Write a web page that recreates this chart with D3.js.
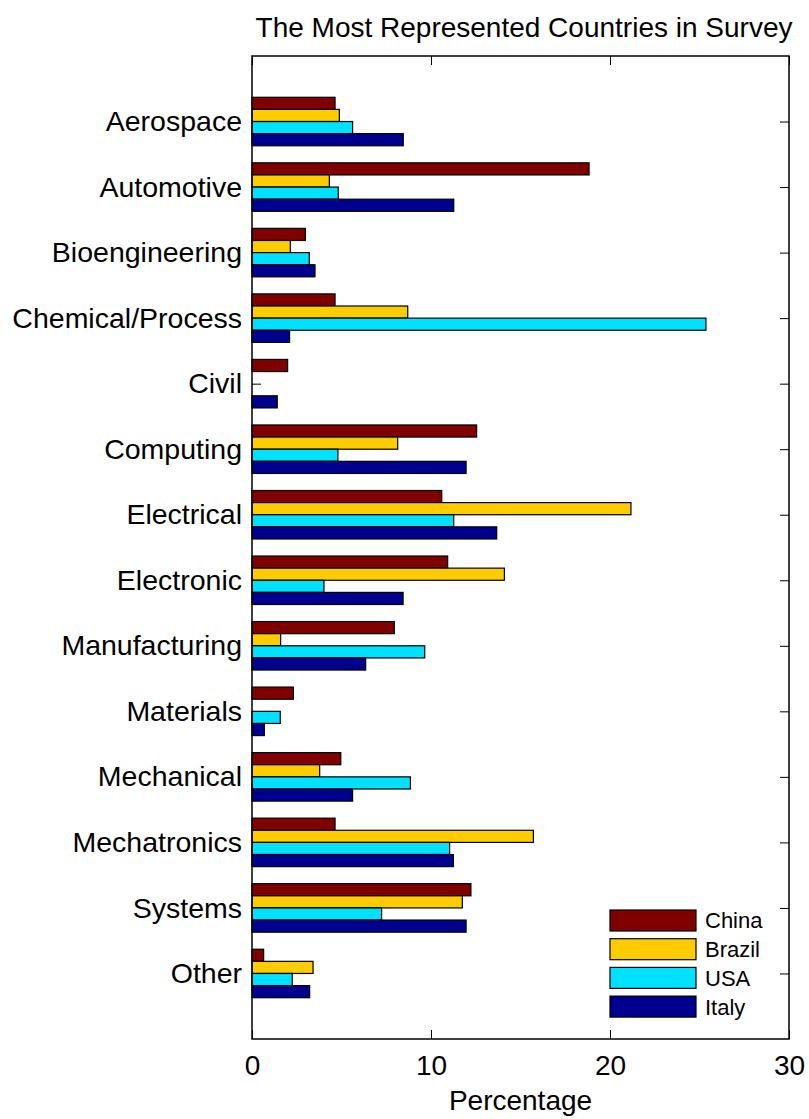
<!DOCTYPE html>
<html>
<head>
<meta charset="utf-8">
<script src="https://cdn.jsdelivr.net/npm/d3@7"></script>
<style>
  html, body { margin: 0; padding: 0; background: #fff; }
  svg { display: block; font-family: "Liberation Sans", Arial, Helvetica, sans-serif; }
</style>
</head>
<body>
<svg id="chart" width="809" height="1119"></svg>
<script>
const categories = ["Aerospace","Automotive","Bioengineering","Chemical/Process","Civil","Computing",
  "Electrical","Electronic","Manufacturing","Materials","Mechanical","Mechatronics","Systems","Other"];
const seriesNames = ["China","Brazil","USA","Italy"];
const seriesColors = ["#800000","#FFCC00","#00E0FF","#00008F"];
const china  = [4.64, 18.83, 2.98, 4.64, 1.99, 12.55, 10.60, 10.93, 7.95, 2.31, 4.96, 4.64, 12.23, 0.65];
const brazil = [4.88, 4.32, 2.14, 8.70, 0.00, 8.14, 21.17, 14.10, 1.60, 0.00, 3.78, 15.72, 11.75, 3.41];
const usa    = [5.62, 4.82, 3.20, 25.36, 0.00, 4.80, 11.27, 4.02, 9.65, 1.58, 8.85, 11.04, 7.24, 2.25];
const italy  = [8.45, 11.27, 3.52, 2.10, 1.41, 11.96, 13.67, 8.44, 6.35, 0.69, 5.62, 11.25, 11.96, 3.22];
const xTicks = [0, 10, 20, 30];
const titleText = "The Most Represented Countries in Survey";
const xLabel = "Percentage";

const seriesValues = [china, brazil, usa, italy];

const svg = d3.select("#chart");
const pLeft = 252, pRight = 789, pTop = 56, pBottom = 1039;

const x = d3.scaleLinear().domain([0, 30]).range([pLeft, pRight]);
const y = d3.scaleLinear().domain([0, categories.length + 1]).range([pTop, pBottom]);
const unit = y(1) - y(0);
const groupW = 0.74 * unit;
const inner = d3.scaleBand().domain(seriesNames).range([-groupW / 2, groupW / 2]).padding(0);

const fontSize = 28;
const labelSize = 28.5;

// ticks (drawn under bars)
const gx = svg.append("g").attr("transform", `translate(0,${pBottom})`)
  .call(d3.axisBottom(x).tickValues(xTicks).tickSize(-9).tickPadding(16).tickFormat(d3.format("d")));
gx.select(".domain").remove();
gx.selectAll("text").attr("font-size", fontSize).attr("font-family", "Liberation Sans, Arial, sans-serif").attr("fill", "#000");
gx.selectAll("line").attr("stroke", "#000").attr("stroke-width", 1);

const gxt = svg.append("g").attr("transform", `translate(0,${pTop})`)
  .call(d3.axisTop(x).tickValues(xTicks).tickSize(-9).tickFormat(""));
gxt.select(".domain").remove();
gxt.selectAll("line").attr("stroke", "#000");

const catIdx = categories.map((c, i) => i + 1);
const gy = svg.append("g").attr("transform", `translate(${pLeft},0)`)
  .call(d3.axisLeft(y).tickValues(catIdx).tickSize(-9).tickPadding(10).tickFormat(d => categories[d - 1]));
gy.select(".domain").remove();
gy.selectAll("text").attr("font-size", labelSize).attr("font-family", "Liberation Sans, Arial, sans-serif").attr("fill", "#000");
gy.selectAll("line").attr("stroke", "#000");

const gyr = svg.append("g").attr("transform", `translate(${pRight},0)`)
  .call(d3.axisRight(y).tickValues(catIdx).tickSize(-9).tickFormat(""));
gyr.select(".domain").remove();
gyr.selectAll("line").attr("stroke", "#000");

// bars
const barData = [];
categories.forEach((c, i) => {
  seriesNames.forEach((s, j) => {
    barData.push({ cat: i + 1, series: s, value: seriesValues[j][i], color: seriesColors[j] });
  });
});

svg.append("g").selectAll("rect").data(barData.filter(d => d.value > 0)).join("rect")
  .attr("x", x(0))
  .attr("y", d => y(d.cat) + inner(d.series))
  .attr("width", d => x(d.value) - x(0))
  .attr("height", inner.bandwidth())
  .attr("fill", d => d.color)
  .attr("stroke", "#000")
  .attr("stroke-width", 1.2);

// frame
svg.append("rect").attr("x", pLeft).attr("y", pTop).attr("width", pRight - pLeft).attr("height", pBottom - pTop)
  .attr("fill", "none").attr("stroke", "#000").attr("stroke-width", 1.5);

// title
svg.append("text").attr("x", 524).attr("y", 37).attr("text-anchor", "middle")
  .attr("font-size", fontSize).attr("fill", "#000").text(titleText);

// x label
svg.append("text").attr("x", (pLeft + pRight) / 2).attr("y", 1110).attr("text-anchor", "middle")
  .attr("font-size", fontSize).attr("fill", "#000").text(xLabel);

// legend
const lg = svg.append("g");
const legY0 = 910, legStep = 28.7, boxW = 86, boxH = 21, legX = 610;
seriesNames.forEach((s, j) => {
  lg.append("rect").attr("x", legX).attr("y", legY0 + j * legStep).attr("width", boxW).attr("height", boxH)
    .attr("fill", seriesColors[j]).attr("stroke", "#000").attr("stroke-width", 1.2);
  lg.append("text").attr("x", 705).attr("y", legY0 + j * legStep + boxH / 2).attr("dy", "0.36em")
    .attr("font-size", 22).attr("fill", "#000").text(s);
});
</script>
</body>
</html>
